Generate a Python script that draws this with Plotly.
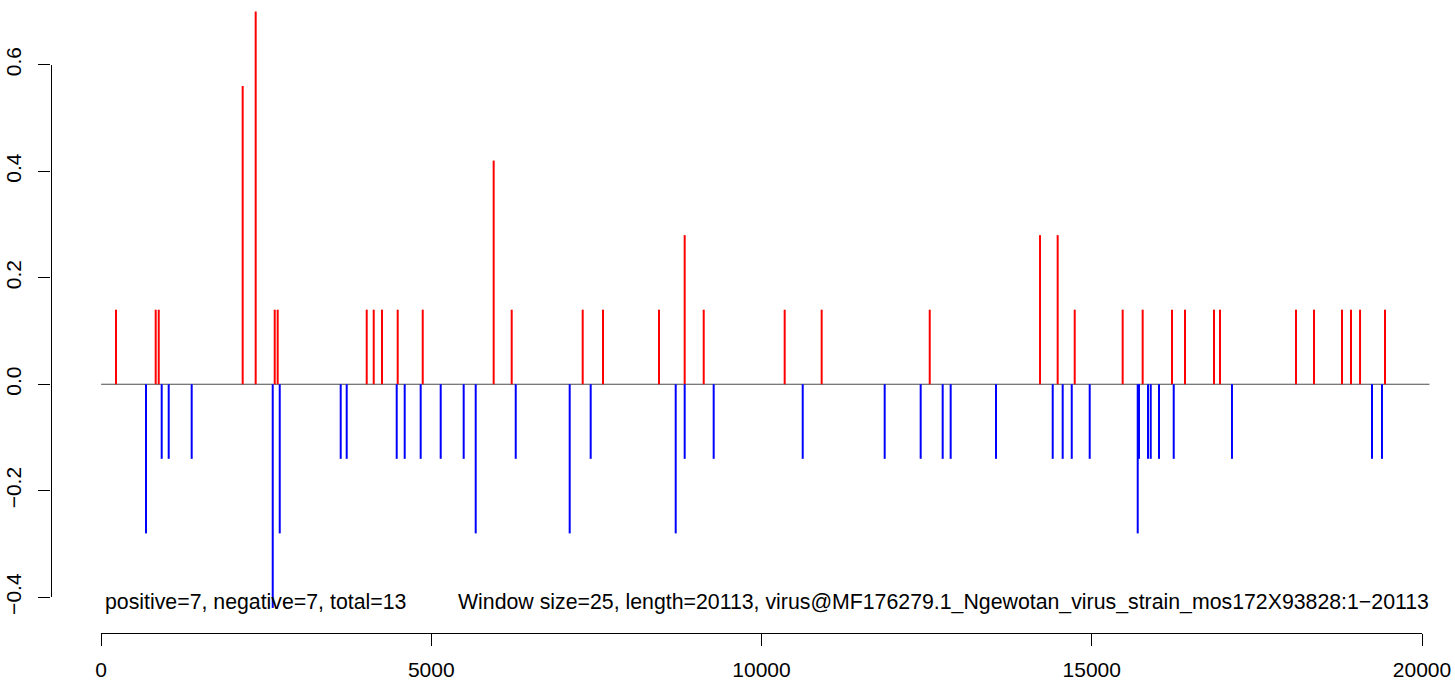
import plotly.graph_objects as go

# ---- data ----
pos_x = [227, 828, 874, 2145, 2342, 2630, 2675, 4023, 4129, 4254, 4492, 4871,
         5945, 6218, 7293, 7600, 8448, 8837, 9125, 10351, 10911, 12547, 14217,
         14484, 14742, 15468, 15771, 16215, 16412, 16851, 16942, 18092, 18365,
         18789, 18925, 19062, 19440]
pos_y = [0.14, 0.14, 0.14, 0.56, 0.70, 0.14, 0.14, 0.14, 0.14, 0.14, 0.14, 0.14,
         0.42, 0.14, 0.14, 0.14, 0.14, 0.28, 0.14, 0.14, 0.14, 0.14, 0.28,
         0.28, 0.14, 0.14, 0.14, 0.14, 0.14, 0.14, 0.14, 0.14, 0.14,
         0.14, 0.14, 0.14, 0.14]

neg_x = [681, 919, 1025, 1373, 2600, 2706, 3629, 3720, 4477, 4598, 4840, 5143,
         5491, 5673, 6279, 7096, 7414, 8701, 8837, 9276, 10624, 11865, 12410,
         12743, 12864, 13550, 14409, 14560, 14697, 14969, 15696, 15715, 15852,
         15893, 16018, 16241, 17123, 19243, 19394]
neg_y = [-0.28, -0.14, -0.14, -0.14, -0.42, -0.28, -0.14, -0.14, -0.14, -0.14, -0.14, -0.14,
         -0.14, -0.28, -0.14, -0.28, -0.14, -0.28, -0.14, -0.14, -0.14, -0.14, -0.14,
         -0.14, -0.14, -0.14, -0.14, -0.14, -0.14, -0.14, -0.28, -0.14, -0.14,
         -0.14, -0.14, -0.14, -0.14, -0.14, -0.14]

baseline_x = [1, 20113]
baseline_y = [0, 0]

x_ticks = [0, 5000, 10000, 15000, 20000]
x_ticktext = ["0", "5000", "10000", "15000", "20000"]
y_ticks = [-0.4, -0.2, 0.0, 0.2, 0.4, 0.6]
y_ticktext = ["\u22120.4", "\u22120.2", "0.0", "0.2", "0.4", "0.6"]

label_left = "positive=7, negative=7, total=13"
label_right = ("Window size=25, length=20113, "
               "virus@MF176279.1_Ngewotan_virus_strain_mos172X93828:1\u221220113")

# ---- geometry ----
W, H = 1455, 683
px0, px1 = 101.0, 1422.0          # pixel of x=0 and x=20000
py_top, py_bot = 64.7, 597.3      # pixel of y=0.6 and y=-0.4
kx = (px1 - px0) / 20000.0
ky = (py_bot - py_top) / 1.0
y_zero = py_bot - 0.4 * ky

x_range = [-px0 / kx, (W - px0) / kx]
y_range = [(y_zero - H) / ky, y_zero / ky]

FONT = "Liberation Sans, Arial, Helvetica, sans-serif"


def stems(xs, ys):
    sx, sy = [], []
    for a, b in zip(xs, ys):
        sx += [a, a, None]
        sy += [0, b, None]
    return sx, sy


fig = go.Figure()

fig.add_trace(go.Scatter(x=baseline_x, y=baseline_y, mode="lines",
                         line=dict(color="#4d4d4d", width=1.2),
                         hoverinfo="skip", showlegend=False))

rx, ry = stems(pos_x, pos_y)
fig.add_trace(go.Scatter(x=rx, y=ry, mode="lines",
                         line=dict(color="#FF0000", width=2),
                         hoverinfo="skip", showlegend=False))
bx, by = stems(neg_x, neg_y)
fig.add_trace(go.Scatter(x=bx, y=by, mode="lines",
                         line=dict(color="#0000FF", width=2),
                         hoverinfo="skip", showlegend=False))

# empty trace to register the display axes
fig.add_trace(go.Scatter(x=[], y=[], xaxis="x2", yaxis="y2",
                         hoverinfo="skip", showlegend=False))

axis_common = dict(showgrid=False, zeroline=False, showline=True,
                   linecolor="black", linewidth=1.3, ticks="outside",
                   ticklen=12, tickwidth=1.3, tickcolor="black",
                   automargin=False,
                   tickfont=dict(family=FONT, size=21, color="black"))

fig.update_layout(
    template="none",
    width=W, height=H, autosize=False,
    margin=dict(l=0, r=0, t=0, b=0, pad=0),
    paper_bgcolor="white", plot_bgcolor="rgba(0,0,0,0)",
    showlegend=False,
    xaxis=dict(domain=[0, 1], range=x_range, visible=False, fixedrange=True,
               automargin=False),
    yaxis=dict(domain=[0, 1], range=y_range, visible=False, fixedrange=True,
               automargin=False),
    xaxis2=dict(domain=[px0 / W, px1 / W], range=[0, 20000], anchor="free",
                position=(H - 633.3) / H, tickmode="array", tickvals=x_ticks,
                ticktext=x_ticktext, ticklabelstandoff=5, **axis_common),
    yaxis2=dict(domain=[(H - py_bot) / H, (H - py_top) / H], range=[-0.4, 0.6],
                anchor="free", position=50.5 / W, tickmode="array",
                tickvals=y_ticks, ticktext=y_ticktext, tickangle=-90,
                ticklabelstandoff=9, **axis_common),
    annotations=[
        dict(text=label_left, xref="paper", yref="paper", x=103 / W,
             y=(H - 602) / H, xanchor="left", yanchor="middle", showarrow=False,
             font=dict(family=FONT, size=21.3, color="black")),
        dict(text=label_right, xref="paper", yref="paper", x=1431 / W,
             y=(H - 602) / H, xanchor="right", yanchor="middle", showarrow=False,
             font=dict(family=FONT, size=21.3, color="black")),
    ],
)

fig.write_html("out.html", config={"displayModeBar": False},
               post_script="document.body.style.margin='0';"
                           "document.body.style.overflow='hidden';")
